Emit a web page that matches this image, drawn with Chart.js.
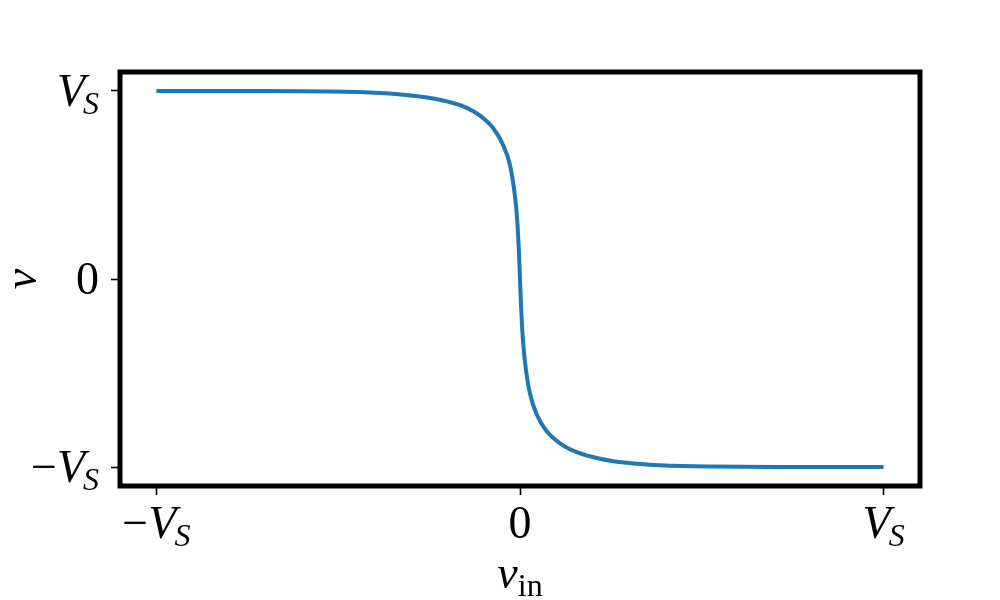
<!DOCTYPE html>
<html>
<head>
<meta charset="utf-8">
<script src="https://cdn.jsdelivr.net/npm/chart.js@4/dist/chart.umd.min.js"></script>
<style>
  html, body { margin: 0; padding: 0; background: #fff; }
  #wrap { width: 1000px; height: 600px; }
</style>
</head>
<body>
<div id="wrap"><canvas id="chart" width="1000" height="600"></canvas></div>
<script>
// data, in units of V_S
const vinValues = [-1.0, -0.75, -0.52, -0.385, -0.293, -0.22, -0.156, -0.11, -0.073, -0.046, -0.0275, -0.0165, -0.0105, -0.0065, -0.003, 0,
  0.003, 0.0065, 0.0105, 0.0165, 0.0275, 0.046, 0.073, 0.11, 0.156, 0.22, 0.293, 0.385, 0.52, 0.75, 1.0];
const vValues = [0.9995, 0.999, 0.997, 0.989, 0.974, 0.952, 0.917, 0.868, 0.800, 0.71, 0.606, 0.48, 0.38, 0.28, 0.15, 0,
  -0.15, -0.28, -0.38, -0.485, -0.61, -0.72, -0.808, -0.873, -0.92, -0.955, -0.977, -0.99, -0.997, -0.999, -0.9995];

const xTickValues = [-1, 0, 1];
const xTickLabels = ["−V_S", "0", "V_S"];
const yTickValues = [-1, 0, 1];
const yTickLabels = ["−V_S", "0", "V_S"];
const xTitle = "v_in";
const yTitle = "v";

const FONT = '"Liberation Serif", "DejaVu Serif", serif';
const MAIN_SIZE = 46;
const SUB_SIZE = 32;

// split "V_S" into runs: minus/digits upright, letters italic, subscript smaller
function parseMath(label) {
  const [main, sub] = label.split("_");
  const runs = [];
  for (const ch of main) {
    const italic = /[A-Za-z]/.test(ch);
    runs.push({ text: ch, font: `${italic ? "italic " : ""}${MAIN_SIZE}px ${FONT}`, dy: 0 });
  }
  if (sub) {
    const italic = sub.length === 1; // single letter -> math italic, words -> roman
    runs.push({ text: sub, font: `${italic ? "italic " : ""}${SUB_SIZE}px ${FONT}`, dy: 8, dx: italic ? -2 : 0 });
  }
  return runs;
}

function drawMath(ctx, label, x, baseline, align) {
  const runs = parseMath(label);
  let total = 0;
  runs.forEach(r => {
    ctx.font = r.font;
    r.w = ctx.measureText(r.text).width;
    total += r.w + (r.dx || 0);
  });
  let cx = align === "center" ? x - total / 2 : align === "right" ? x - total : x;
  ctx.textAlign = "left";
  ctx.textBaseline = "alphabetic";
  runs.forEach(r => {
    cx += r.dx || 0;
    ctx.font = r.font;
    ctx.fillText(r.text, cx, baseline + r.dy);
    cx += r.w;
  });
}

const mathLabels = {
  id: "mathLabels",
  afterDatasetsDraw(chart) {
    const { ctx, chartArea } = chart;
    ctx.save();
    // frame
    ctx.strokeStyle = "#000";
    ctx.lineWidth = 5;
    ctx.strokeRect(chartArea.left, chartArea.top, chartArea.right - chartArea.left, chartArea.bottom - chartArea.top);
    ctx.restore();
  },
  afterDraw(chart) {
    const { ctx, chartArea } = chart;
    const xs = chart.scales.x;
    const ys = chart.scales.y;
    ctx.save();
    ctx.fillStyle = "#000";

    xTickValues.forEach((v, i) => {
      drawMath(ctx, xTickLabels[i], xs.getPixelForValue(v), 538, "center");
    });
    yTickValues.forEach((v, i) => {
      drawMath(ctx, yTickLabels[i], 99, ys.getPixelForValue(v) + 15, "right");
    });

    // axis titles
    drawMath(ctx, xTitle, (chartArea.left + chartArea.right) / 2, 588, "center");

    ctx.translate(26, (chartArea.top + chartArea.bottom) / 2);
    ctx.rotate(-Math.PI / 2);
    drawMath(ctx, yTitle, 0, 10, "center");
    ctx.restore();
  },
};

new Chart(document.getElementById("chart").getContext("2d"), {
  type: "line",
  data: {
    datasets: [
      {
        data: vinValues.map((x, i) => ({ x: x, y: vValues[i] })),
        borderColor: "#1f77b4",
        borderWidth: 4,
        pointRadius: 0,
        fill: false,
        cubicInterpolationMode: "monotone",
      },
    ],
  },
  plugins: [mathLabels],
  options: {
    responsive: false,
    animation: false,
    layout: { padding: { left: 0, top: 72, right: 80, bottom: 0 } },
    plugins: { legend: { display: false }, tooltip: { enabled: false } },
    scales: {
      x: {
        type: "linear",
        min: -1.1,
        max: 1.1,
        afterBuildTicks(scale) { scale.ticks = xTickValues.map(v => ({ value: v })); },
        afterFit(scale) { scale.height = 114; },
        ticks: { display: false },
        border: { display: false },
        grid: { drawOnChartArea: false, drawTicks: true, tickLength: 9, tickWidth: 1.6, tickColor: "#000" },
      },
      y: {
        type: "linear",
        min: -1.1,
        max: 1.1,
        afterBuildTicks(scale) { scale.ticks = yTickValues.map(v => ({ value: v })); },
        afterFit(scale) { scale.width = 120; },
        ticks: { display: false },
        border: { display: false },
        grid: { drawOnChartArea: false, drawTicks: true, tickLength: 9, tickWidth: 1.6, tickColor: "#000" },
      },
    },
  },
});
</script>
</body>
</html>
